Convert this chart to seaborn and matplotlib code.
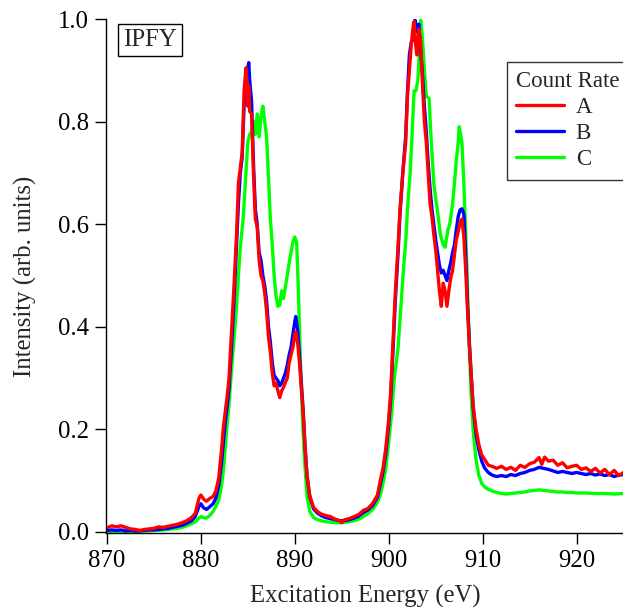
import matplotlib
matplotlib.use("Agg")
import matplotlib.pyplot as plt
import seaborn as sns
import pandas as pd

# ---------------- data ----------------
energy_a = [870.0, 870.5, 871.0, 871.5, 872.0, 872.5, 873.0, 873.5, 874.0, 874.5, 875.0, 875.5, 876.0, 876.5,
            877.0, 877.5, 878.0, 878.5, 879.0, 879.4, 879.8, 880.0, 880.3, 880.6, 881.0, 881.3, 881.6, 881.9,
            882.2, 882.4, 882.6, 882.8, 883.0, 883.2, 883.5, 883.8, 884.0, 884.2, 884.4, 884.6, 884.8, 884.9,
            885.0, 885.1, 885.2, 885.4, 885.6, 885.8, 886.0, 886.2, 886.4, 886.6, 886.8, 887.0, 887.2, 887.4,
            887.6, 887.8, 888.0, 888.2, 888.4, 888.6, 888.8, 889.0, 889.2, 889.4, 889.6, 889.8, 890.0, 890.1,
            890.3, 890.5, 890.7, 890.9, 891.1, 891.3, 891.6, 892.0, 892.4, 892.8, 893.3, 893.8, 894.3, 894.8,
            895.0, 895.3, 895.8, 896.3, 896.8, 897.3, 897.8, 898.3, 898.8, 899.1, 899.4, 899.7, 900.0, 900.2,
            900.5, 900.7, 901.0, 901.2, 901.5, 901.8, 902.0, 902.2, 902.4, 902.6, 902.7, 902.8, 903.0, 903.2,
            903.4, 903.6, 903.8, 904.0, 904.2, 904.4, 904.6, 904.8, 905.0, 905.2, 905.4, 905.6, 905.8, 906.0,
            906.2, 906.4, 906.6, 906.8, 907.0, 907.2, 907.4, 907.6, 907.8, 908.0, 908.2, 908.4, 908.6, 908.8,
            909.0, 909.3, 909.6, 909.9, 910.2, 910.6, 911.0, 911.5, 912.0, 912.5, 913.0, 913.5, 914.0, 914.5,
            915.0, 915.5, 916.0, 916.3, 916.6, 917.0, 917.5, 918.0, 918.5, 919.0, 919.5, 920.0, 920.5, 921.0,
            921.5, 922.0, 922.5, 923.0, 923.5, 924.0, 924.5, 925.0]
intensity_a = [0.008, 0.012, 0.010, 0.012, 0.009, 0.006, 0.005, 0.003, 0.005, 0.006, 0.007, 0.010, 0.009, 0.011,
               0.013, 0.015, 0.018, 0.022, 0.028, 0.036, 0.066, 0.072, 0.064, 0.060, 0.066, 0.069, 0.080, 0.105,
               0.160, 0.205, 0.235, 0.265, 0.300, 0.370, 0.470, 0.580, 0.680, 0.710, 0.740, 0.860, 0.905, 0.880,
               0.830, 0.870, 0.820, 0.815, 0.700, 0.610, 0.595, 0.530, 0.500, 0.490, 0.465, 0.430, 0.380, 0.350,
               0.310, 0.285, 0.290, 0.275, 0.262, 0.275, 0.282, 0.292, 0.300, 0.330, 0.345, 0.360, 0.385, 0.390,
               0.370, 0.330, 0.280, 0.230, 0.160, 0.110, 0.070, 0.048, 0.040, 0.035, 0.032, 0.030, 0.025, 0.022,
               0.018, 0.024, 0.026, 0.030, 0.034, 0.042, 0.046, 0.056, 0.072, 0.100, 0.125, 0.165, 0.220, 0.270,
               0.390, 0.466, 0.560, 0.628, 0.700, 0.758, 0.850, 0.900, 0.950, 0.985, 0.995, 0.960, 0.930, 0.980,
               0.955, 0.870, 0.800, 0.760, 0.700, 0.640, 0.615, 0.580, 0.550, 0.510, 0.470, 0.440, 0.485, 0.470,
               0.440, 0.470, 0.495, 0.510, 0.540, 0.570, 0.585, 0.605, 0.610, 0.575, 0.510, 0.430, 0.360, 0.300,
               0.245, 0.200, 0.170, 0.150, 0.142, 0.130, 0.128, 0.124, 0.128, 0.122, 0.126, 0.120, 0.130, 0.126,
               0.133, 0.136, 0.145, 0.132, 0.146, 0.138, 0.140, 0.130, 0.135, 0.125, 0.128, 0.130, 0.122, 0.125,
               0.118, 0.124, 0.115, 0.122, 0.112, 0.120, 0.110, 0.116]

energy_b = [870.0, 870.5, 871.0, 871.5, 872.0, 872.5, 873.0, 873.5, 874.0, 874.5, 875.0, 875.5, 876.0, 876.5,
            877.0, 877.5, 878.0, 878.5, 879.0, 879.4, 879.8, 880.0, 880.3, 880.6, 881.0, 881.3, 881.6, 881.9,
            882.2, 882.4, 882.6, 882.8, 883.0, 883.2, 883.5, 883.8, 884.0, 884.2, 884.4, 884.6, 884.8, 885.0,
            885.1, 885.2, 885.4, 885.6, 885.8, 886.0, 886.2, 886.4, 886.6, 886.8, 887.0, 887.2, 887.4, 887.6,
            887.8, 888.0, 888.2, 888.4, 888.6, 888.8, 889.0, 889.2, 889.4, 889.6, 889.8, 890.0, 890.1, 890.3,
            890.5, 890.7, 890.9, 891.1, 891.3, 891.6, 892.0, 892.4, 892.8, 893.3, 893.8, 894.3, 894.8, 895.3,
            895.8, 896.3, 896.8, 897.3, 897.8, 898.3, 898.8, 899.1, 899.4, 899.7, 900.0, 900.2, 900.5, 900.7,
            901.0, 901.2, 901.5, 901.8, 902.0, 902.2, 902.4, 902.6, 902.8, 903.0, 903.2, 903.4, 903.6, 903.8,
            904.0, 904.2, 904.4, 904.6, 904.8, 905.0, 905.2, 905.4, 905.6, 905.8, 906.0, 906.2, 906.4, 906.6,
            906.8, 907.0, 907.2, 907.4, 907.6, 907.8, 908.0, 908.2, 908.4, 908.6, 908.8, 909.0, 909.3, 909.6,
            909.9, 910.2, 910.6, 911.0, 911.5, 912.0, 912.5, 913.0, 913.5, 914.0, 914.5, 915.0, 915.5, 916.0,
            916.5, 917.0, 917.5, 918.0, 918.5, 919.0, 919.5, 920.0, 920.5, 921.0, 921.5, 922.0, 922.5, 923.0,
            923.5, 924.0, 924.5, 925.0]
intensity_b = [0.003, 0.004, 0.003, 0.004, 0.002, 0.003, 0.002, 0.002, 0.003, 0.004, 0.004, 0.005, 0.006, 0.007,
               0.009, 0.011, 0.013, 0.017, 0.022, 0.030, 0.050, 0.055, 0.047, 0.044, 0.050, 0.055, 0.066, 0.090,
               0.135, 0.175, 0.215, 0.245, 0.280, 0.340, 0.440, 0.560, 0.640, 0.700, 0.730, 0.830, 0.880, 0.905,
               0.915, 0.880, 0.840, 0.720, 0.630, 0.600, 0.545, 0.530, 0.500, 0.480, 0.450, 0.400, 0.370, 0.330,
               0.305, 0.300, 0.295, 0.285, 0.290, 0.300, 0.310, 0.325, 0.345, 0.360, 0.385, 0.410, 0.420, 0.395,
               0.345, 0.290, 0.235, 0.165, 0.110, 0.068, 0.045, 0.037, 0.032, 0.028, 0.026, 0.024, 0.022, 0.022,
               0.024, 0.027, 0.031, 0.038, 0.043, 0.052, 0.068, 0.092, 0.118, 0.155, 0.210, 0.258, 0.370, 0.450,
               0.545, 0.620, 0.700, 0.770, 0.860, 0.930, 0.955, 0.960, 0.998, 0.975, 0.990, 0.940, 0.890, 0.830,
               0.780, 0.720, 0.670, 0.630, 0.600, 0.570, 0.545, 0.520, 0.505, 0.510, 0.500, 0.490, 0.510, 0.525,
               0.545, 0.560, 0.590, 0.615, 0.628, 0.630, 0.620, 0.540, 0.440, 0.365, 0.300, 0.240, 0.190, 0.160,
               0.138, 0.125, 0.116, 0.111, 0.108, 0.110, 0.108, 0.112, 0.110, 0.114, 0.116, 0.120, 0.122, 0.126,
               0.124, 0.122, 0.119, 0.116, 0.118, 0.116, 0.114, 0.116, 0.114, 0.112, 0.114, 0.111, 0.113, 0.110,
               0.112, 0.108, 0.111, 0.112]

energy_c = [870.0, 870.5, 871.0, 871.5, 872.0, 872.5, 873.0, 873.5, 874.0, 874.5, 875.0, 875.5, 876.0, 876.5,
            877.0, 877.5, 878.0, 878.5, 879.0, 879.4, 879.8, 880.0, 880.3, 880.6, 881.0, 881.3, 881.6, 881.9,
            882.2, 882.4, 882.6, 882.8, 883.0, 883.2, 883.5, 883.8, 884.0, 884.2, 884.5, 884.8, 885.0, 885.2,
            885.4, 885.6, 885.8, 886.0, 886.2, 886.4, 886.6, 886.8, 887.0, 887.2, 887.4, 887.6, 887.8, 888.0,
            888.2, 888.4, 888.6, 888.8, 889.0, 889.2, 889.5, 889.8, 890.0, 890.2, 890.4, 890.6, 890.8, 891.0,
            891.3, 891.6, 892.0, 892.4, 892.8, 893.3, 893.8, 894.3, 894.8, 895.3, 895.8, 896.3, 896.8, 897.3,
            897.8, 898.3, 898.8, 899.1, 899.4, 899.7, 900.0, 900.3, 900.6, 901.0, 901.3, 901.6, 901.8, 902.0,
            902.3, 902.5, 902.7, 902.9, 903.1, 903.2, 903.4, 903.6, 903.8, 904.0, 904.3, 904.5, 904.8, 905.0,
            905.2, 905.5, 905.8, 906.0, 906.3, 906.5, 906.8, 907.0, 907.2, 907.4, 907.5, 907.7, 907.8, 908.0,
            908.2, 908.4, 908.6, 908.8, 909.0, 909.3, 909.6, 909.9, 910.2, 910.6, 911.0, 911.5, 912.0, 912.5,
            913.0, 913.5, 914.0, 914.5, 915.0, 915.5, 916.0, 916.5, 917.0, 917.5, 918.0, 918.5, 919.0, 919.5,
            920.0, 921.0, 922.0, 923.0, 924.0, 925.0]
intensity_c = [0.000, 0.001, 0.001, 0.000, 0.001, 0.001, 0.001, 0.002, 0.002, 0.002, 0.003, 0.003, 0.004, 0.005,
               0.006, 0.007, 0.009, 0.012, 0.016, 0.020, 0.027, 0.030, 0.028, 0.027, 0.033, 0.040, 0.050, 0.062,
               0.090, 0.120, 0.165, 0.210, 0.250, 0.300, 0.370, 0.440, 0.500, 0.555, 0.610, 0.700, 0.760, 0.775,
               0.780, 0.800, 0.775, 0.815, 0.770, 0.810, 0.830, 0.800, 0.770, 0.690, 0.610, 0.560, 0.500, 0.460,
               0.440, 0.442, 0.470, 0.455, 0.478, 0.500, 0.535, 0.565, 0.575, 0.565, 0.460, 0.330, 0.230, 0.150,
               0.070, 0.040, 0.028, 0.024, 0.022, 0.020, 0.019, 0.018, 0.018, 0.019, 0.020, 0.022, 0.025, 0.030,
               0.036, 0.044, 0.058, 0.072, 0.095, 0.125, 0.175, 0.230, 0.300, 0.360, 0.440, 0.520, 0.563, 0.630,
               0.705, 0.780, 0.860, 0.860, 0.880, 0.914, 0.998, 0.960, 0.900, 0.850, 0.845, 0.770, 0.680, 0.650,
               0.625, 0.580, 0.560, 0.555, 0.589, 0.600, 0.640, 0.680, 0.725, 0.760, 0.790, 0.770, 0.758, 0.680,
               0.580, 0.470, 0.350, 0.260, 0.195, 0.140, 0.110, 0.095, 0.088, 0.083, 0.080, 0.077, 0.075, 0.074,
               0.075, 0.076, 0.077, 0.078, 0.080, 0.081, 0.082, 0.081, 0.080, 0.079, 0.078, 0.078, 0.077, 0.077,
               0.076, 0.076, 0.075, 0.075, 0.074, 0.075]

series_names = ["A", "B", "C"]
series_colors = ["#ff0000", "#0000ff", "#00ff00"]
x_ticks = [870, 880, 890, 900, 910, 920]
y_ticks = [0.0, 0.2, 0.4, 0.6, 0.8, 1.0]

# ---------------- style ----------------
sns.set_style("ticks")
plt.rcParams["font.family"] = ["Liberation Serif", "DejaVu Serif"]

FS = 17.8
LFS = 16.5
W, H = 623, 611
fig = plt.figure(figsize=(W / 100, H / 100), dpi=100)
ax = fig.add_axes([106 / W, 1 - 533 / H, 518 / W, (533 - 19) / H])

frames = {
    "A": pd.DataFrame({"energy": energy_a, "intensity": intensity_a}),
    "B": pd.DataFrame({"energy": energy_b, "intensity": intensity_b}),
    "C": pd.DataFrame({"energy": energy_c, "intensity": intensity_c}),
}
# draw C first, A on top
for name in ["C", "B", "A"]:
    col = series_colors[series_names.index(name)]
    sns.lineplot(data=frames[name], x="energy", y="intensity", color=col, linewidth=2.4,
                 estimator=None, ax=ax, label=name, legend=False)

ax.set_xlim(869.9, 925.05)
ax.set_ylim(-0.002, 1.0)
ax.set_xticks(x_ticks)
ax.set_xticklabels([str(t) for t in x_ticks])
ax.set_yticks(y_ticks)
ax.set_yticklabels([f"{t:.1f}" for t in y_ticks])
ax.tick_params(axis="both", direction="out", length=8, width=1.0, labelsize=FS, colors="black", pad=4.5)
for s in ["top", "right"]:
    ax.spines[s].set_visible(False)
for s in ["left", "bottom"]:
    ax.spines[s].set_linewidth(1.0)
    ax.spines[s].set_color("black")

ax.set_xlabel("Excitation Energy (eV)", fontsize=FS)
ax.set_ylabel("Intensity (arb. units)", fontsize=FS)
ax.yaxis.label.set_va("center")
ax.xaxis.label.set_va("center")
ax.yaxis.set_label_coords((25 - 106) / 518, 0.5)
ax.xaxis.set_label_coords(0.5, (533 - 596) / 514)

ax.text((150 - 106) / 518, (533 - 40) / 514, "IPFY", transform=ax.transAxes, fontsize=FS,
        ha="center", va="center",
        bbox=dict(boxstyle="square,pad=0.22", facecolor="white", edgecolor="black", linewidth=1.0))

handles_labels = {l: h for h, l in zip(*ax.get_legend_handles_labels())}
leg = fig.legend([handles_labels[n] for n in series_names], series_names, title="Count Rate",
                 loc="upper left", bbox_to_anchor=(507 / W, 1 - 62 / H), bbox_transform=fig.transFigure,
                 fontsize=LFS, title_fontsize=LFS, frameon=True, fancybox=False, borderaxespad=0,
                 handlelength=2.1, handletextpad=0.5, labelspacing=0.22, borderpad=0.4,
                 alignment="left")
leg.get_frame().set_edgecolor("black")
leg.get_frame().set_linewidth(1.0)
for line in leg.get_lines():
    line.set_linewidth(2.4)

fig.savefig("out.png", dpi=100)
